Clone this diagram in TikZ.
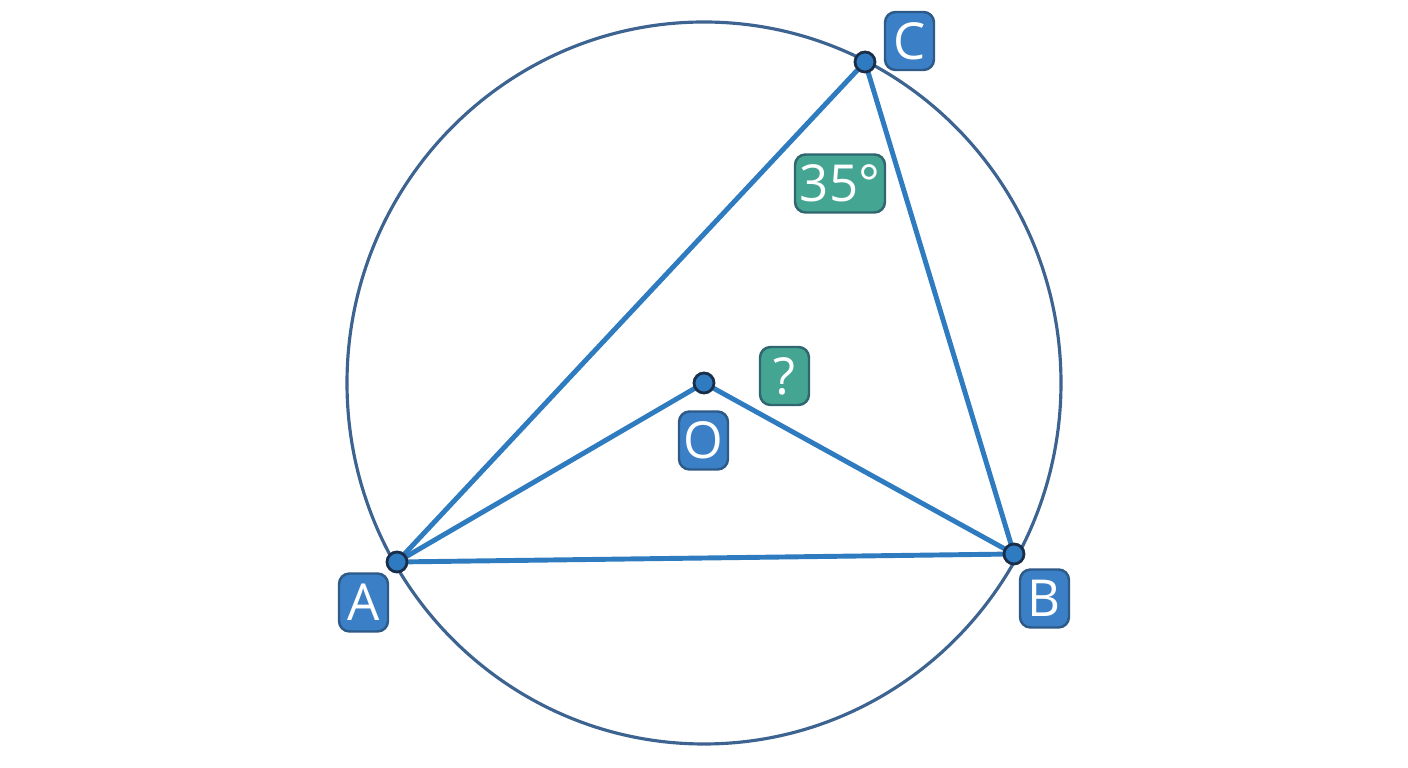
\documentclass[tikz,border=0pt]{standalone}
\usepackage{fontspec}
\setmainfont{Open Sans}
\definecolor{ringcol}{HTML}{3D6391}
\definecolor{edgecol}{HTML}{2E7BBF}
\definecolor{dotcol}{HTML}{2F7BC2}
\definecolor{dotline}{HTML}{1A2E4A}
\definecolor{tagblue}{HTML}{3B80C6}
\definecolor{tagblueline}{HTML}{2D5A87}
\definecolor{taggreen}{HTML}{44A592}
\definecolor{taggreenline}{HTML}{2F6670}
\tikzset{
  dot/.style={circle,fill=dotcol,draw=dotline,line width=0.8pt,inner sep=0pt,minimum size=0.2cm},
  tag/.style={rounded corners=3pt,fill=tagblue,draw=tagblueline,line width=0.7pt,text=white,
    minimum width=0.49cm,minimum height=0.58cm,inner sep=0pt,font=\fontsize{14.5}{16}\selectfont},
  angtag/.style={tag,fill=taggreen,draw=taggreenline}
}
\begin{document}
\begin{tikzpicture}
  \useasboundingbox (0,0) rectangle (14.08,7.68);
  \draw[ringcol,line width=0.9pt] (7.04,3.85) ellipse [x radius=3.57,y radius=3.61];
  \path
    (3.97,2.06) coordinate (A)
    (10.14,2.14) coordinate (B)
    (8.65,7.06) coordinate (C)
    (7.04,3.85) coordinate (O);
  \begin{scope}[edgecol,line width=1.4pt]
    \draw (A) to (B);
    \draw (B) to (C);
    \draw (C) to (A);
    \draw (A) to (O);
    \draw (O) to (B);
  \end{scope}
  \foreach \p in {A,B,C,O}
    \node[dot] (d\p) at (\p) {};
  \node[tag] (lA) at (3.635,1.655) {A};
  \node[tag] (lB) at (10.445,1.695) {B};
  \node[tag] (lC) at (9.095,7.27) {C};
  \node[tag] (lO) at (7.035,3.275) {O};
  \node[angtag,minimum width=0.90cm] (l35) at (8.40,5.845) {35°};
  \node[angtag] (lq) at (7.845,3.92) {?};
\end{tikzpicture}
\end{document}
